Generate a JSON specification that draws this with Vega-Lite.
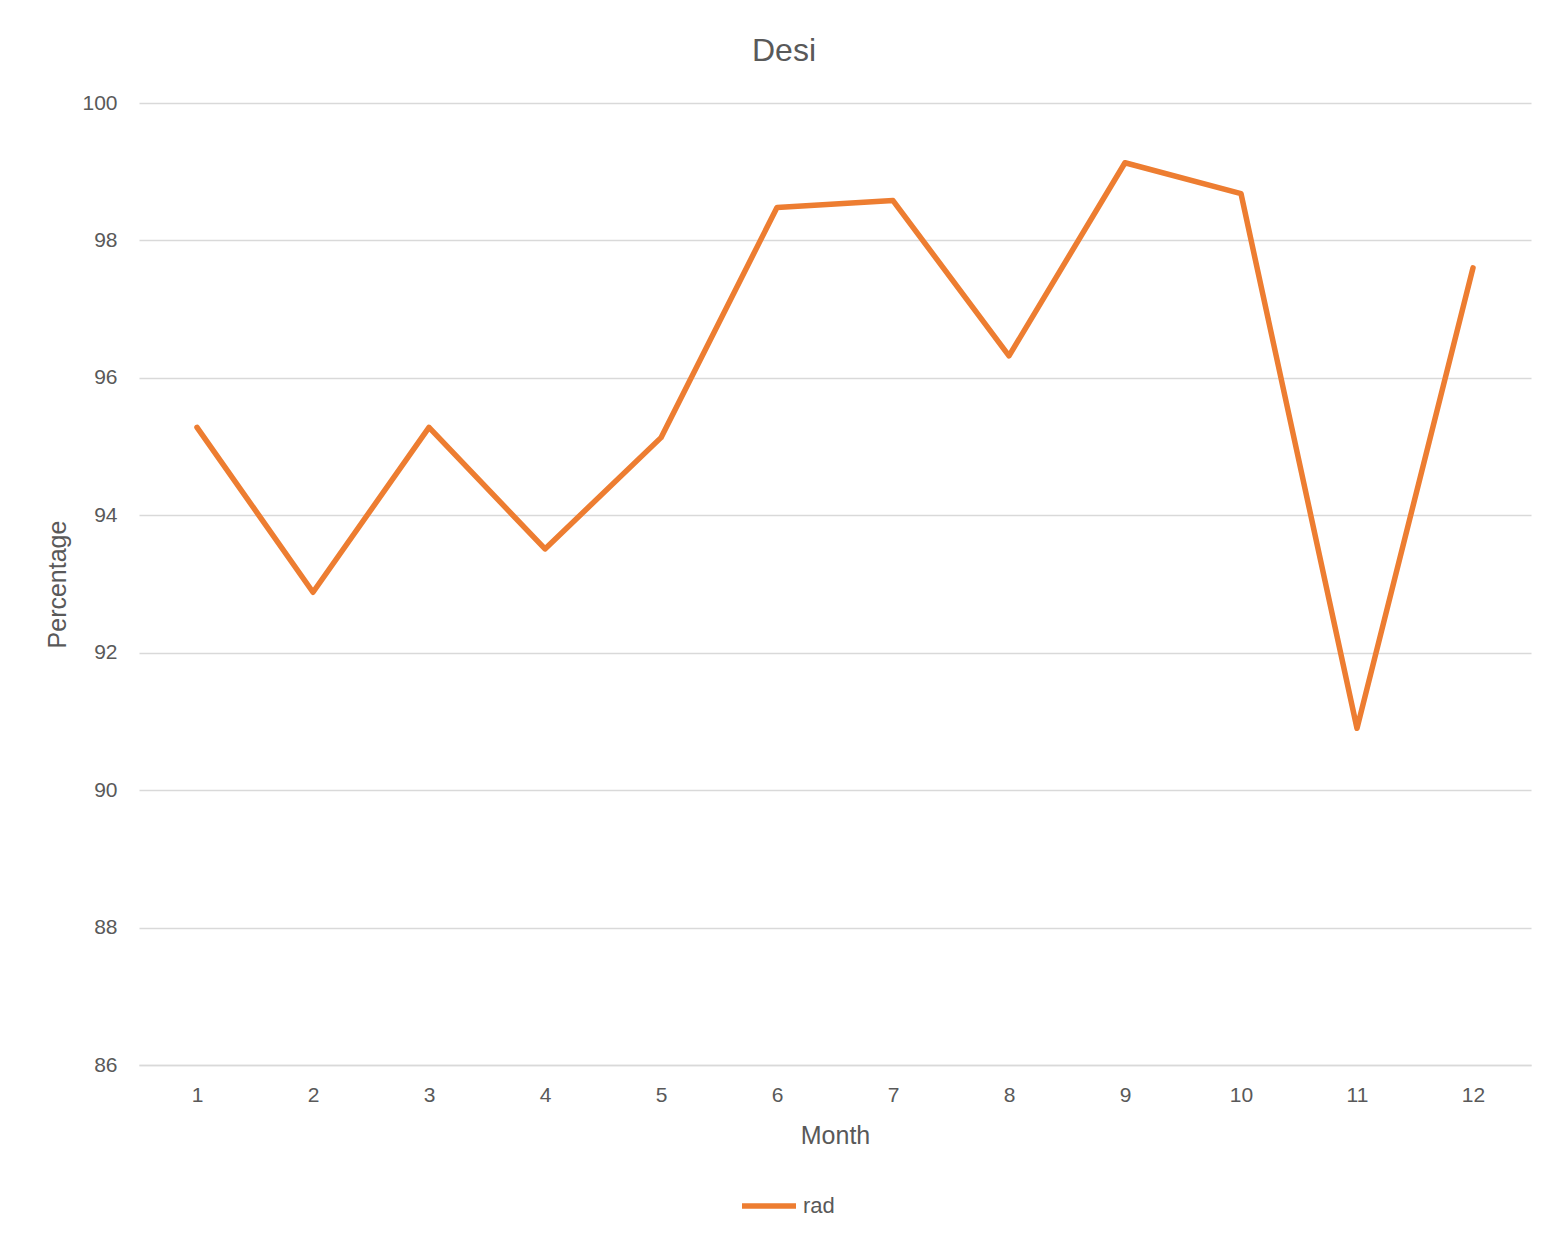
{
  "$schema": "https://vega.github.io/schema/vega-lite/v6.json",
  "width": 1392,
  "height": 962,
  "autosize": {"type": "none"},
  "padding": {"left": 139, "top": 103, "right": 37, "bottom": 179},
  "background": "white",
  "title": {
    "text": "Desi",
    "font": "Liberation Sans",
    "fontSize": 32,
    "fontWeight": "normal",
    "color": "#595959",
    "dx": -51,
    "offset": 24
  },
  "data": {
    "values": [
      {"Month": 1, "Percentage": 95.28, "Series": "rad"},
      {"Month": 2, "Percentage": 92.88, "Series": "rad"},
      {"Month": 3, "Percentage": 95.28, "Series": "rad"},
      {"Month": 4, "Percentage": 93.51, "Series": "rad"},
      {"Month": 5, "Percentage": 95.13, "Series": "rad"},
      {"Month": 6, "Percentage": 98.48, "Series": "rad"},
      {"Month": 7, "Percentage": 98.58, "Series": "rad"},
      {"Month": 8, "Percentage": 96.32, "Series": "rad"},
      {"Month": 9, "Percentage": 99.13, "Series": "rad"},
      {"Month": 10, "Percentage": 98.68, "Series": "rad"},
      {"Month": 11, "Percentage": 90.9, "Series": "rad"},
      {"Month": 12, "Percentage": 97.6, "Series": "rad"}
    ]
  },
  "mark": {"type": "line", "strokeWidth": 5.5, "strokeJoin": "round", "strokeCap": "round"},
  "encoding": {
    "x": {
      "field": "Month",
      "type": "ordinal",
      "scale": {"type": "point", "padding": 0.5},
      "axis": {
        "title": "Month",
        "labelAngle": 0,
        "domain": true,
        "domainColor": "#d9d9d9",
        "domainWidth": 1.5,
        "ticks": false,
        "grid": false,
        "labelPadding": 19,
        "titlePadding": 18
      }
    },
    "y": {
      "field": "Percentage",
      "type": "quantitative",
      "scale": {"domain": [86, 100], "zero": false, "nice": false},
      "axis": {
        "title": "Percentage",
        "values": [86, 88, 90, 92, 94, 96, 98, 100],
        "domain": false,
        "ticks": false,
        "grid": true,
        "gridColor": "#d9d9d9",
        "gridWidth": 1.5,
        "labelPadding": 22,
        "titlePadding": 11
      }
    },
    "color": {
      "field": "Series",
      "type": "nominal",
      "scale": {"range": ["#ED7D31"]},
      "legend": {
        "title": null,
        "orient": "none",
        "legendX": 600,
        "legendY": 1073,
        "symbolType": "stroke",
        "symbolSize": 2916,
        "symbolStrokeWidth": 5.5,
        "labelOffset": 4
      }
    }
  },
  "config": {
    "view": {"stroke": null},
    "font": "Liberation Sans",
    "axis": {
      "labelFont": "Liberation Sans",
      "labelFontSize": 21,
      "labelColor": "#595959",
      "titleFont": "Liberation Sans",
      "titleFontSize": 25,
      "titleFontWeight": "normal",
      "titleColor": "#595959"
    },
    "legend": {
      "labelFont": "Liberation Sans",
      "labelFontSize": 22,
      "labelColor": "#595959"
    }
  }
}
